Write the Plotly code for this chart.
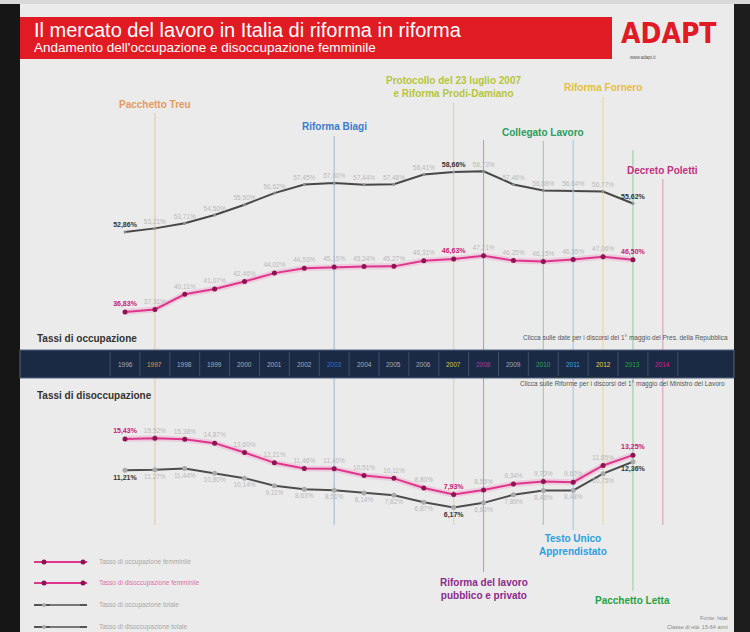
import plotly.graph_objects as go

# ---------------- data ----------------
years = list(range(1996, 2014))
occ_tot = [52.86, 53.21, 53.71, 54.50, 55.50, 56.62, 57.45, 57.60, 57.44, 57.48,
           58.41, 58.66, 58.73, 57.46, 56.88, 56.84, 56.77, 55.62]
occ_femm = [36.83, 37.31, 40.11, 41.07, 42.46, 44.02, 44.93, 45.15, 45.24, 45.27,
            46.31, 46.63, 47.21, 46.35, 46.15, 46.55, 47.06, 46.50]
dis_femm = [15.43, 15.52, 15.38, 14.87, 13.60, 12.21, 11.46, 11.40, 10.51, 10.11,
            8.80, 7.93, 8.55, 9.34, 9.70, 9.60, 11.85, 13.25]
dis_tot = [11.21, 11.27, 11.44, 10.80, 10.14, 9.11, 8.63, 8.51, 8.14, 7.82,
           6.87, 6.17, 6.80, 7.89, 8.46, 8.48, 10.75, 12.36]
highlight_years = [1996, 2007, 2013]

series_names = ["Tasso di occupazione femminile", "Tasso di disoccupazione femminile",
                "Tasso di occupazione totale", "Tasso di disoccupazione totale"]

band_years = list(range(1996, 2015))
band_colors = {1997: "#e8954a", 2003: "#2f6fc4", 2007: "#c9d23e", 2008: "#a23ca6",
               2010: "#2fa060", 2011: "#3aa4ea", 2012: "#e8d23e", 2013: "#22a444",
               2014: "#d42090"}

events = [  # name, year, colour
    ("Pacchetto Treu", 1997, "#e59a5c"),
    ("Riforma Biagi", 2003, "#3a7ccc"),
    ("Protocollo del 23 luglio 2007<br>e Riforma Prodi-Damiano", 2007, "#b7c53a"),
    ("Riforma del lavoro<br>pubblico e privato", 2008, "#8c2a8c"),
    ("Collegato Lavoro", 2010, "#2a9d60"),
    ("Testo Unico<br>Apprendistato", 2011, "#2b9fe0"),
    ("Riforma Fornero", 2012, "#e6bf3c"),
    ("Pacchetto Letta", 2013, "#26a340"),
    ("Decreto Poletti", 2014, "#c2307c"),
]
event_label_y = {1997: 104, 2003: 127, 2007: 87, 2008: 589, 2010: 132,
                 2011: 545, 2012: 88, 2013: 600, 2014: 170}
event_line = {1997: (113, 525), 2003: (136, 525), 2007: (103, 525), 2008: (140, 572),
              2010: (141, 525), 2011: (140, 530), 2012: (97, 525), 2013: (150, 591),
              2014: (179, 525)}

# ---------------- geometry helpers ----------------
W, H = 750, 632
def pxx(x): return x / W
def pyy(y): return 1 - y / H

STEP = 29.88
X0 = 1996 - 125 / STEP
X1 = X0 + W / STEP

def fmt(v):
    return f"{v:.2f}".replace(".", ",") + "%"

def labels(vals, bold_color):
    txt, col, size = [], [], []
    for y, v in zip(years, vals):
        if y in highlight_years:
            txt.append(f"<b>{fmt(v)}</b>")
            col.append(bold_color)
            size.append(7)
        else:
            txt.append(fmt(v))
            col.append("#b9b9b9")
            size.append(6.5)
    return txt, col, size

PINK = "#e0358c"
PINK_DOT = "#8c1452"
GREY = "#474747"
F = "Liberation Sans, Arial, sans-serif"

fig = go.Figure()

def add_series(vals, yaxis, name, line_col, mk_col, mk_size, txtpos, bold_color, glow=None):
    if glow:
        fig.add_trace(go.Scatter(x=years, y=vals, yaxis=yaxis, mode="lines",
                                 line=dict(color=glow, width=6), showlegend=False,
                                 hoverinfo="skip"))
    t, c, s = labels(vals, bold_color)
    fig.add_trace(go.Scatter(
        x=years, y=vals, yaxis=yaxis, name=name, showlegend=False,
        mode="lines+markers+text",
        line=dict(color=line_col, width=2),
        marker=dict(color=mk_col, size=mk_size),
        text=t, textposition=txtpos, textfont=dict(color=c, size=s, family=F),
        cliponaxis=False))

add_series(occ_femm, "y2", series_names[0], PINK, PINK_DOT, 5, "top center", "#c8206e",
           glow="rgba(235,120,180,0.25)")
add_series(dis_femm, "y3", series_names[1], PINK, PINK_DOT, 5, "top center", "#c8206e",
           glow="rgba(235,120,180,0.25)")
add_series(occ_tot, "y", series_names[2], GREY, "#8e8e8e", 3, "top center", "#333333")
add_series(dis_tot, "y3", series_names[3], "#4d4d4d", "#a9a9a9", 5, "bottom center", "#333333")

shapes = []
# background
shapes.append(dict(type="rect", xref="paper", yref="paper", x0=0, x1=1, y0=0, y1=1,
                   fillcolor="#ebebeb", line_width=0, layer="below"))
shapes.append(dict(type="rect", xref="paper", yref="paper", x0=0, x1=1, y0=pyy(4), y1=1,
                   fillcolor="#d9d9d9", line_width=0, layer="below"))
shapes.append(dict(type="rect", xref="paper", yref="paper", x0=0, x1=pxx(20), y0=0, y1=pyy(4),
                   fillcolor="#161616", line_width=0, layer="below"))
shapes.append(dict(type="rect", xref="paper", yref="paper", x0=pxx(734), x1=1, y0=0, y1=pyy(4),
                   fillcolor="#1d1d1d", line_width=0, layer="below"))
# red banner
shapes.append(dict(type="rect", xref="paper", yref="paper", x0=pxx(20), x1=pxx(612), y0=pyy(59), y1=pyy(17),
                   fillcolor="#e01b24", line_width=0, layer="below"))
# event lines
for name, yr, col in events:
    a, b = event_line[yr]
    shapes.append(dict(type="line", xref="x", yref="paper", x0=yr, x1=yr, y0=pyy(a), y1=pyy(b),
                       line=dict(color=col, width=1), opacity=0.45, layer="below"))
# year band
shapes.append(dict(type="rect", xref="paper", yref="paper", x0=pxx(20), x1=pxx(734), y0=pyy(378), y1=pyy(350),
                   fillcolor="#1b2a44", line=dict(color="#56657e", width=1), layer="above"))
for yr in band_years + [band_years[-1] + 1]:
    shapes.append(dict(type="line", xref="x", yref="paper", x0=yr - 0.5, x1=yr - 0.5,
                       y0=pyy(376), y1=pyy(352), line=dict(color="#3e4e6a", width=1), layer="above"))

# manual legend (decoration)
leg_y = [562, 583, 605, 627]
leg_line = [PINK, PINK, "#555555", "#555555"]
leg_txt_col = ["#a8a8a8", "#e070a8", "#a8a8a8", "#a8a8a8"]
for i, yy in enumerate(leg_y):
    shapes.append(dict(type="line", xref="paper", yref="paper", x0=pxx(34), x1=pxx(87), y0=pyy(yy), y1=pyy(yy),
                       line=dict(color=leg_line[i], width=2), layer="above"))
    if i < 2:
        for cx in (44, 83):
            shapes.append(dict(type="circle", xref="paper", yref="paper",
                               x0=pxx(cx - 2.5), x1=pxx(cx + 2.5), y0=pyy(yy + 2.5), y1=pyy(yy - 2.5),
                               fillcolor=PINK_DOT, line_width=0, layer="above"))
    else:
        shapes.append(dict(type="line", xref="paper", yref="paper", x0=pxx(50), x1=pxx(80), y0=pyy(yy), y1=pyy(yy),
                           line=dict(color="#9a9a9a", width=1), layer="above"))
        shapes.append(dict(type="circle", xref="paper", yref="paper",
                           x0=pxx(42), x1=pxx(46), y0=pyy(yy + 2), y1=pyy(yy - 2),
                           fillcolor="#a9a9a9", line_width=0, layer="above"))

ann = []
for i, yy in enumerate(leg_y):
    ann.append(dict(xref="paper", yref="paper", x=pxx(97), y=pyy(yy), xanchor="left", yanchor="middle",
                    text=series_names[i], showarrow=False, font=dict(family=F, size=6.5, color=leg_txt_col[i])))

ann.append(dict(xref="paper", yref="paper", x=pxx(32), y=pyy(30), xanchor="left", yanchor="middle",
                text="Il mercato del lavoro in Italia di riforma in riforma", showarrow=False,
                font=dict(family=F, size=20, color="white")))
ann.append(dict(xref="paper", yref="paper", x=pxx(32), y=pyy(48), xanchor="left", yanchor="middle",
                text="Andamento dell'occupazione e disoccupazione femminile", showarrow=False,
                font=dict(family=F, size=13.5, color="white")))
ann.append(dict(xref="paper", yref="paper", x=pxx(669), y=pyy(34), xanchor="center", yanchor="middle",
                text="<b>ADAPT</b>", showarrow=False,
                font=dict(family="DejaVu Sans Condensed, Liberation Sans Narrow, Liberation Sans", size=28,
                          color="#e01b24")))
ann.append(dict(xref="paper", yref="paper", x=pxx(628), y=pyy(57), xanchor="left", yanchor="middle",
                text="www.adapt.it", showarrow=False, font=dict(family=F, size=4.5, color="#555")))
ann.append(dict(xref="paper", yref="paper", x=pxx(35), y=pyy(338), xanchor="left", yanchor="middle",
                text="<b>Tassi di occupazione</b>", showarrow=False, font=dict(family=F, size=10, color="#333")))
ann.append(dict(xref="paper", yref="paper", x=pxx(35), y=pyy(395), xanchor="left", yanchor="middle",
                text="<b>Tassi di disoccupazione</b>", showarrow=False, font=dict(family=F, size=10, color="#333")))
ann.append(dict(xref="paper", yref="paper", x=pxx(730), y=pyy(338), xanchor="right", yanchor="middle",
                text="Clicca sulle date per i discorsi del 1° maggio del Pres. della Repubblica",
                showarrow=False, font=dict(family=F, size=6.5, color="#555")))
ann.append(dict(xref="paper", yref="paper", x=pxx(727), y=pyy(384), xanchor="right", yanchor="middle",
                text="Clicca sulle Riforme per i discorsi del 1° maggio del Ministro del Lavoro",
                showarrow=False, font=dict(family=F, size=6.5, color="#555")))
ann.append(dict(xref="paper", yref="paper", x=pxx(730), y=pyy(618), xanchor="right", yanchor="middle",
                text="Fonte: Istat", showarrow=False, font=dict(family=F, size=5.5, color="#888")))
ann.append(dict(xref="paper", yref="paper", x=pxx(730), y=pyy(627), xanchor="right", yanchor="middle",
                text="Classe di età: 15-64 anni", showarrow=False, font=dict(family=F, size=5.5, color="#888")))
for yr in band_years:
    ann.append(dict(xref="x", yref="paper", x=yr, y=pyy(364), xanchor="center", yanchor="middle",
                    text=str(yr), showarrow=False,
                    font=dict(family=F, size=6.5, color=band_colors.get(yr, "#a3acbd"))))
for name, yr, col in events:
    ann.append(dict(xref="x", yref="paper", x=yr, y=pyy(event_label_y[yr]), xanchor="center", yanchor="middle",
                    text=f"<b>{name}</b>", showarrow=False, align="center",
                    font=dict(family=F, size=10, color=col)))

fig.update_layout(
    width=W, height=H, autosize=False,
    margin=dict(l=0, r=0, t=0, b=0),
    paper_bgcolor="#ebebeb", plot_bgcolor="rgba(0,0,0,0)",
    xaxis=dict(range=[X0, X1], visible=False, fixedrange=True, domain=[0, 1]),
    yaxis=dict(range=[52.86 - 400 / 10.34, 52.86 + 232 / 10.34], visible=False, fixedrange=True, domain=[0, 1]),
    yaxis2=dict(range=[36.83 - 320 / 5.408, 36.83 + 312 / 5.408], visible=False, fixedrange=True, overlaying="y"),
    yaxis3=dict(range=[15.43 - 193 / 7.4, 15.43 + 439 / 7.4], visible=False, fixedrange=True, overlaying="y"),
    shapes=shapes, annotations=ann,
    showlegend=False,
)

fig.write_html("out.html", config={"displayModeBar": False},
               post_script="document.body.style.margin='0';document.body.style.overflow='hidden';")
